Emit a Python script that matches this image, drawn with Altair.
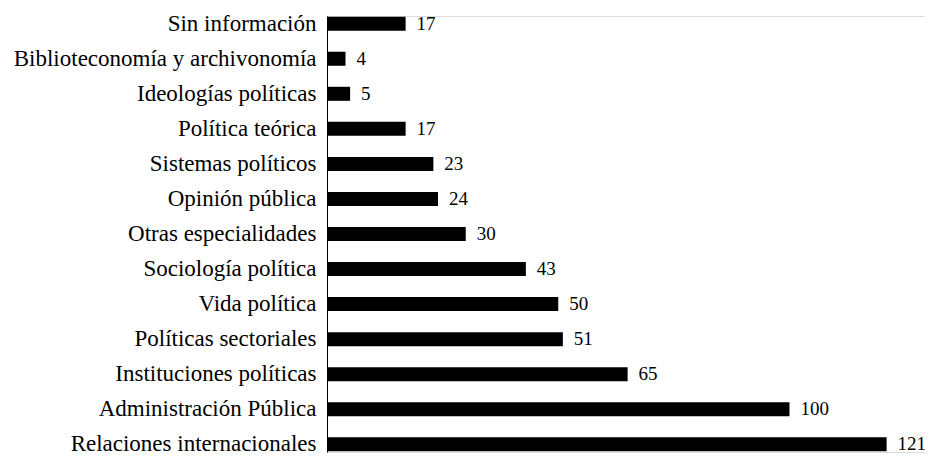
import altair as alt
import pandas as pd

categories = [
    "Sin información",
    "Biblioteconomía y archivonomía",
    "Ideologías políticas",
    "Política teórica",
    "Sistemas políticos",
    "Opinión pública",
    "Otras especialidades",
    "Sociología política",
    "Vida política",
    "Políticas sectoriales",
    "Instituciones políticas",
    "Administración Pública",
    "Relaciones internacionales",
]
values = [17, 4, 5, 17, 23, 24, 30, 43, 50, 51, 65, 100, 121]

df = pd.DataFrame({"cat": categories, "val": values})
FONT = "Liberation Serif"

base = alt.Chart(df).encode(
    y=alt.Y(
        "cat:N",
        sort=categories,
        title=None,
        scale=alt.Scale(paddingInner=0.6, paddingOuter=0.02),
        axis=alt.Axis(
            ticks=False,
            grid=False,
            domain=True,
            domainColor="black",
            domainWidth=1,
            labelFont=FONT,
            labelFontSize=23,
            labelColor="black",
            labelPadding=11,
            labelLimit=400,
        ),
    ),
    x=alt.X(
        "val:Q",
        title=None,
        scale=alt.Scale(domain=[0, 129.3], nice=False),
        axis=None,
    ),
)

bars = base.mark_bar(color="black")
text = base.mark_text(
    align="left", baseline="middle", dx=11, font=FONT, fontSize=19, color="black"
).encode(text="val:Q")

chart = (
    alt.layer(bars, text)
    .properties(
        width=917,
        height=453,
        padding={"left": 5, "top": 4, "right": 0, "bottom": 5},
        autosize=alt.AutoSizeParams(type="fit", contains="padding"),
    )
    .configure_view(strokeWidth=0, stroke=None)
    .configure_axis(grid=False)
    .configure(background="white")
)

chart.save("out.html", embed_options={"renderer": "svg", "actions": False})
